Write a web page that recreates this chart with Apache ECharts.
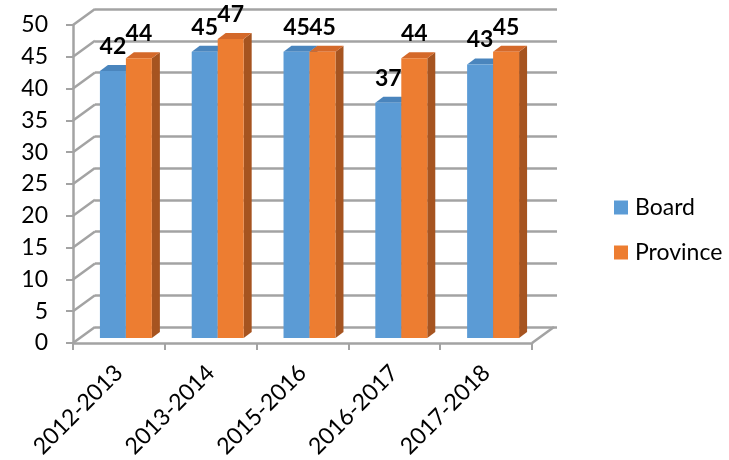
<!DOCTYPE html>
<html>
<head>
<meta charset="utf-8">
<script src="https://cdn.jsdelivr.net/npm/echarts@6/dist/echarts.min.js"></script>
<style>
  html, body { margin: 0; padding: 0; background: #ffffff; }
  #chart { width: 729px; height: 460px; }
</style>
</head>
<body>
<div id="chart"></div>
<script>
// Data
const categories = ['2012-2013', '2013-2014', '2015-2016', '2016-2017', '2017-2018'];
const boardValues = [42, 45, 45, 37, 43];
const provinceValues = [44, 47, 45, 44, 45];
const yMin = 0;
const yMax = 50;
const yStep = 5;

// Styling
const FONT = 'Lato, "Liberation Sans", sans-serif';
const GRID_COLOR = '#a3a3a3';
const GRID_WIDTH = 2.5;
const WALL_DX = 22;      // depth of the side wall
const WALL_DY = 16;
const BAR_DX = 8;        // depth of each column
const BAR_DY = 6;
const BAR_FRAC = 0.283;  // column width as a share of the category band

const colors = {
  Board:    { front: '#5b9bd5', side: '#41719c', top: '#4a85bd' },
  Province: { front: '#ed7d31', side: '#a65420', top: '#d4692a' }
};

const tickValues = [];
for (let v = yMin; v <= yMax; v += yStep) tickValues.push(v);

function wallRender(params, api) {
  const v = api.value(1);
  const p = api.coord([0, v]);
  const band = api.size([1, 0])[0];
  const xl = p[0] - band / 2;
  const children = [{
    type: 'line',
    shape: { x1: xl, y1: p[1], x2: xl + WALL_DX, y2: p[1] - WALL_DY },
    style: { stroke: GRID_COLOR, lineWidth: GRID_WIDTH }
  }];
  if (v === yMin) {
    const xr = api.coord([categories.length - 1, v])[0] + band / 2;
    children.push({
      type: 'line',
      shape: { x1: xr, y1: p[1], x2: xr + WALL_DX, y2: p[1] - WALL_DY },
      style: { stroke: GRID_COLOR, lineWidth: GRID_WIDTH }
    });
  }
  return { type: 'group', children: children };
}

function makeBarRender(name, side) {
  const c = colors[name];
  return function (params, api) {
    const idx = api.value(0);
    const v = api.value(1);
    const base = api.coord([idx, 0]);
    const top = api.coord([idx, v]);
    const band = api.size([1, 0])[0];
    const w = band * BAR_FRAC;
    const x0 = side < 0 ? base[0] - w : base[0];
    const x1 = x0 + w;
    const yb = base[1];
    const yt = top[1];
    return {
      type: 'group',
      children: [
        { type: 'polygon',
          shape: { points: [[x1, yt], [x1 + BAR_DX, yt - BAR_DY], [x1 + BAR_DX, yb - BAR_DY], [x1, yb]] },
          style: { fill: c.side } },
        { type: 'polygon',
          shape: { points: [[x0, yt], [x0 + BAR_DX, yt - BAR_DY], [x1 + BAR_DX, yt - BAR_DY], [x1, yt]] },
          style: { fill: c.top } },
        { type: 'rect',
          shape: { x: x0, y: yt, width: w, height: yb - yt },
          style: { fill: c.front } },
        { type: 'text',
          style: {
            x: (x0 + x1) / 2, y: yt - BAR_DY - 7,
            text: String(v), align: 'center', verticalAlign: 'bottom',
            fill: '#000', font: 'bold 23px ' + FONT
          } }
      ]
    };
  };
}

const chart = echarts.init(document.getElementById('chart'), null, { renderer: 'canvas' });

chart.setOption({
  animation: false,
  backgroundColor: '#ffffff',
  legend: {
    orient: 'vertical',
    left: 609,
    top: 191,
    itemWidth: 14,
    itemHeight: 14,
    itemGap: 22,
    icon: 'rect',
    textStyle: { fontFamily: FONT, fontSize: 23, color: '#000', padding: [0, 0, 0, 2] },
    data: ['Board', 'Province']
  },
  grid: [
    // front plane: axis lines, ticks and labels
    { left: 73, top: 25, width: 459, height: 318, outerBoundsMode: 'none' },
    // back wall: horizontal gridlines
    { left: 95, top: 9, width: 462, height: 318, outerBoundsMode: 'none' },
    // plane the columns stand on
    { left: 80, top: 20, width: 459, height: 318, outerBoundsMode: 'none' }
  ],
  xAxis: [
    {
      gridIndex: 0, type: 'category', data: categories,
      axisLine: { show: true, lineStyle: { color: GRID_COLOR, width: GRID_WIDTH } },
      axisTick: { show: true, length: 7, lineStyle: { color: GRID_COLOR, width: 2 } },
      axisLabel: { rotate: 45, margin: 26, fontFamily: FONT, fontSize: 23, color: '#000' },
      splitLine: { show: false }
    },
    { gridIndex: 1, type: 'category', data: categories, show: false },
    { gridIndex: 2, type: 'category', data: categories, show: false }
  ],
  yAxis: [
    {
      gridIndex: 0, type: 'value', min: yMin, max: yMax, interval: yStep,
      axisLine: { show: true, lineStyle: { color: GRID_COLOR, width: GRID_WIDTH } },
      axisTick: { show: true, length: 7, lineStyle: { color: GRID_COLOR, width: 2 } },
      axisLabel: { margin: 25, fontFamily: FONT, fontSize: 23, color: '#000' },
      splitLine: { show: false }
    },
    {
      gridIndex: 1, type: 'value', min: yMin, max: yMax, interval: yStep,
      axisLine: { show: false }, axisTick: { show: false }, axisLabel: { show: false },
      splitLine: { show: true, lineStyle: { color: GRID_COLOR, width: GRID_WIDTH } }
    },
    { gridIndex: 2, type: 'value', min: yMin, max: yMax, interval: yStep, show: false,
      splitLine: { show: false } }
  ],
  series: [
    {
      name: 'wall', type: 'custom', xAxisIndex: 0, yAxisIndex: 0,
      renderItem: wallRender, silent: true, z: 1,
      data: tickValues.map(v => [0, v])
    },
    {
      name: 'Board', type: 'custom', xAxisIndex: 2, yAxisIndex: 2, z: 3,
      itemStyle: { color: colors.Board.front },
      renderItem: makeBarRender('Board', -1),
      data: boardValues.map((v, i) => [i, v])
    },
    {
      name: 'Province', type: 'custom', xAxisIndex: 2, yAxisIndex: 2, z: 4,
      itemStyle: { color: colors.Province.front },
      renderItem: makeBarRender('Province', 1),
      data: provinceValues.map((v, i) => [i, v])
    }
  ]
});
</script>
</body>
</html>
